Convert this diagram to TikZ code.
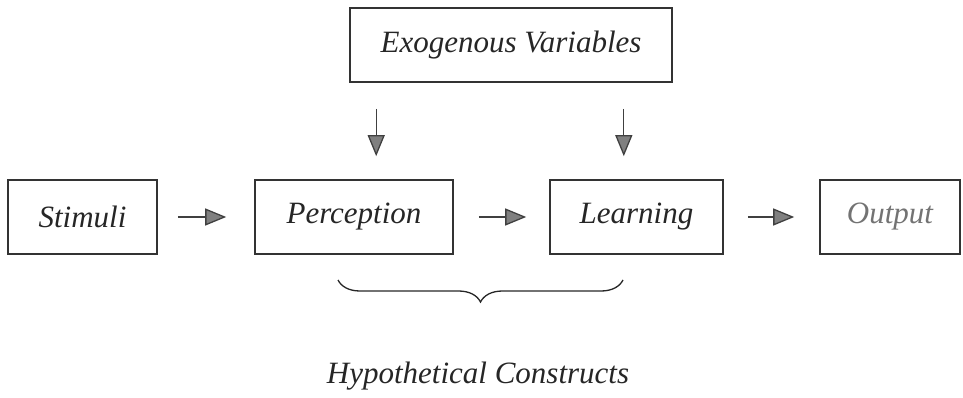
\documentclass[tikz,border=0pt]{standalone}
\usepackage{fontspec}
\setmainfont{Liberation Serif}
\usetikzlibrary{positioning, arrows.meta, decorations.pathreplacing}
\tikzset{
  block/.style={rectangle, minimum height=74pt, inner sep=0pt, text centered, draw=black!80, line width=1.6pt, text=black!85, font=\fontsize{31}{36}\selectfont\itshape},
  arrow/.style={line width=1.3pt, draw=black!75, -{Triangle[length=21pt, width=17pt, fill=black!50]}},
  brace/.style={line width=1.3pt, draw=black!85, decorate, decoration={brace, mirror, amplitude=22pt}}
}
\begin{document}
\begin{tikzpicture}[x=1pt, y=-1pt]
  \useasboundingbox (0,0) rectangle (963,398);
  \node (exo) [block, minimum width=322pt] at (511,45) {Exogenous Variables};
  \node (stim) [block, minimum width=149pt] at (82.5,217) {Stimuli};
  \node (perc) [block, minimum width=198pt] at (354,217) {Perception};
  \node (learn) [block, minimum width=173pt] at (636.5,217) {Learning};
  \node (out) [block, minimum width=140pt, text=black!55] at (890,217) {Output};

  % the two arrows from the top box
  \coordinate (exoA) at ([xshift=27pt]exo.south west);
  \coordinate (exoB) at ([xshift=-49pt]exo.south east);
  \draw [arrow, shorten <=26pt, shorten >=23pt] (exoA) -- (exoA |- perc.north);
  \draw [arrow, shorten <=26pt, shorten >=23pt] (exoB) -- (exoB |- learn.north);

  \draw [arrow, shorten <=20pt, shorten >=28pt] (stim) -- (perc);
  \draw [arrow, shorten <=25pt, shorten >=23pt] (perc) -- (learn);
  \draw [arrow, shorten <=24pt, shorten >=25pt] (learn) -- (out);

  % brace under perception and learning
  \coordinate (brL) at (338,280);
  \coordinate (brR) at (623,280);
  \draw [brace] (brL) -- (brR);
  \node (hyp) [anchor=base, text=black!85, font=\fontsize{31}{36}\selectfont\itshape] at (478,383) {Hypothetical Constructs};
\end{tikzpicture}
\end{document}
